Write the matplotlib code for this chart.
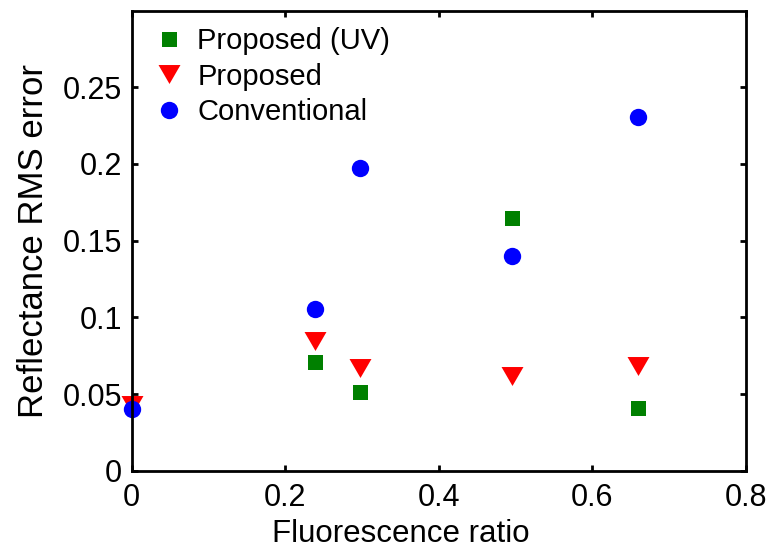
import matplotlib
matplotlib.use("Agg")
import matplotlib.pyplot as plt
from matplotlib.path import Path

plt.rcParams['font.family'] = ['Liberation Sans', 'DejaVu Sans']

# Data
x_uv = [0.239, 0.297, 0.495, 0.659]
y_uv = [0.0707, 0.0511, 0.165, 0.0411]

x_prop = [0.0, 0.239, 0.297, 0.495, 0.659]
y_prop = [0.043, 0.0845, 0.0671, 0.0619, 0.068]

x_conv = [0.0, 0.239, 0.297, 0.495, 0.659]
y_conv = [0.0402, 0.1053, 0.1973, 0.140, 0.2309]

labels = ["Proposed (UV)", "Proposed", "Conventional"]
xticks = [0, 0.2, 0.4, 0.6, 0.8]
xticklabels = ["0", "0.2", "0.4", "0.6", "0.8"]
yticks = [0, 0.05, 0.1, 0.15, 0.2, 0.25]
yticklabels = ["0", "0.05", "0.1", "0.15", "0.2", "0.25"]

fig = plt.figure(figsize=(7.74, 5.49), dpi=100)
ax = fig.add_axes([0.170, 0.1426, 0.9635 - 0.170, 0.9803 - 0.1426])

tri = Path([(-1.0, 0.8636), (1.0, 0.8636), (0.0, -0.8636), (-1.0, 0.8636)],
           [Path.MOVETO, Path.LINETO, Path.LINETO, Path.CLOSEPOLY])

ax.plot(x_uv, y_uv, linestyle='none', marker='s', markersize=10.8,
        color='#008000', markeredgewidth=0, label=labels[0], clip_on=False)
ax.plot(x_prop, y_prop, linestyle='none', marker=tri, markersize=15.8,
        color='#ff0000', markeredgewidth=0, label=labels[1], clip_on=False)
ax.plot(x_conv, y_conv, linestyle='none', marker='o', markersize=12.5,
        color='#0000ff', markeredgewidth=0, label=labels[2], clip_on=False)

ax.set_xlim(0, 0.8)
ax.set_ylim(0, 0.2998)
ax.set_xticks(xticks)
ax.set_xticklabels(xticklabels)
ax.set_yticks(yticks)
ax.set_yticklabels(yticklabels)

for s in ax.spines.values():
    s.set_linewidth(2.0)
ax.tick_params(direction='in', length=4.5, width=2.0, labelsize=22,
               top=True, right=True)
ax.tick_params(axis='y', pad=7)
ax.tick_params(axis='x', pad=8.5)

ax.set_xlabel("Fluorescence ratio", fontsize=22.5)
ax.xaxis.set_label_coords(0.439, -0.154)
ax.xaxis.label.set_va('baseline')
ax.xaxis.label.set_ha('center')

ax.set_ylabel("Reflectance RMS error", fontsize=25)
ax.yaxis.set_label_coords(-0.144, 0.5)
ax.yaxis.label.set_rotation_mode('anchor')
ax.yaxis.label.set_va('baseline')
ax.yaxis.label.set_ha('center')

leg = ax.legend(loc='upper left', frameon=False, fontsize=21,
                handlelength=0.9, handletextpad=0.5, labelspacing=0.26,
                borderaxespad=0.3, numpoints=1, bbox_to_anchor=(0.007, 1.009))

fig.savefig("out.png", dpi=100)
